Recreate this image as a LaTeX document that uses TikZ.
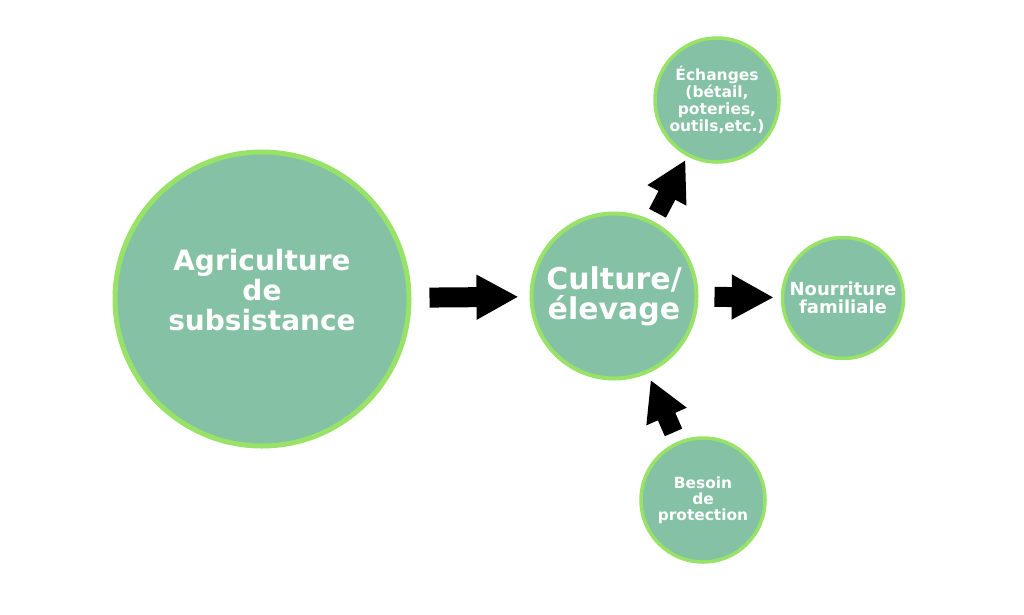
\documentclass[tikz,border=0pt]{standalone}
\usepackage{fontspec}
\setmainfont{DejaVu Sans}
\usetikzlibrary{arrows.meta}
\definecolor{leaf}{RGB}{133,193,164}
\definecolor{rim}{RGB}{152,226,104}
\begin{document}
\begin{tikzpicture}[x=1pt,y=-1pt,
  bubble/.style={circle,draw=rim,fill=leaf,text=white,align=center,inner sep=0pt},
  push/.style={line width=20pt,-{Triangle[length=42pt,width=42pt]}}]
\useasboundingbox (0,0) rectangle (1024,614);
% Draw circles
\node[bubble,line width=5pt,minimum size=294pt,text depth=18pt,font=\bfseries\fontsize{28}{30}\selectfont]
  (agri) at (262,299) {Agriculture\\de\\subsistance};
\node[bubble,line width=4pt,minimum size=165pt,font=\bfseries\fontsize{30}{30}\selectfont]
  (cult) at (614,296) {Culture/\\élevage};
\node[bubble,line width=3.5pt,minimum size=124pt,font=\bfseries\fontsize{15.5}{17}\selectfont]
  (ech) at (717,100) {Échanges\\(bétail,\\poteries,\\outils,etc.)};
\node[bubble,line width=3.5pt,minimum size=121pt,font=\bfseries\fontsize{18}{18.5}\selectfont]
  (nour) at (843,298) {Nourriture\\familiale};
\node[bubble,line width=3.5pt,minimum size=124pt,font=\bfseries\fontsize{15.4}{16}\selectfont]
  (bes) at (703,500) {Besoin\\de\\protection};
% Draw arrows
\draw[push,shorten <=18pt,shorten >=11pt] (agri) -- (cult);
\draw[push,shorten <=16pt,shorten >=7pt] (cult) -- (nour);
\draw[push,line width=19pt,-{Triangle[length=40pt,width=41pt]},shorten <=9pt,shorten >=4pt] (cult) -- (ech);
\draw[push,line width=19pt,-{Triangle[length=40pt,width=41pt]},shorten <=10pt,shorten >=7pt] (bes) -- (cult);
\end{tikzpicture}
\end{document}
